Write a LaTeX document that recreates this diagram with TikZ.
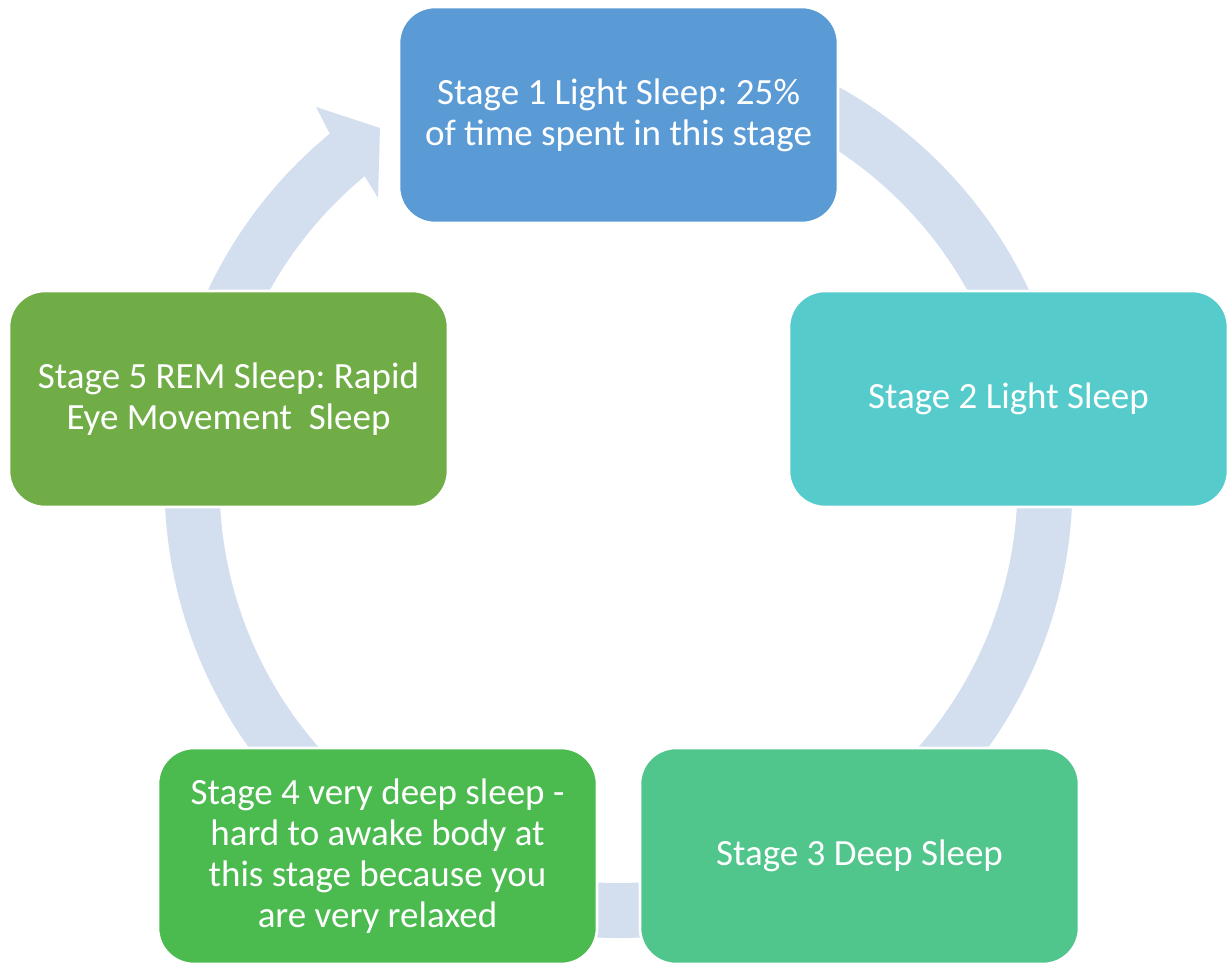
\documentclass[tikz,border=0pt]{standalone}
\usepackage{fontspec}
\setmainfont{Carlito}
\usetikzlibrary{calc}
\definecolor{bandc}{HTML}{D3DEEF}
\definecolor{c1}{HTML}{5B9BD5}
\definecolor{c2}{HTML}{56CBCC}
\definecolor{c3}{HTML}{50C58C}
\definecolor{c4}{HTML}{4BBB50}
\definecolor{c5}{HTML}{70AD47}
\newcommand\bandseg[2]{%
  \fill[band] ($(C)+(#1:454)$) arc[start angle=#1,end angle=#2,radius=454]
    -- ($(C)+(#2:399)$) arc[start angle=#2,end angle=#1,radius=399] -- cycle;}
\frenchspacing
\begin{document}
\begin{tikzpicture}[x=0.5pt,y=0.5pt,
  stagebox/.style={rounded corners=18pt, draw=white, line width=1.3pt,
    minimum width=219.5pt, minimum height=108pt, text=white, align=center,
    font=\fontsize{18.5pt}{20.5pt}\selectfont\frenchspacing, inner sep=0pt},
  band/.style={fill=bandc}]
\useasboundingbox (0,0) rectangle (1231,965);
\coordinate (C) at (618.5,481);
% cycle bands
\bandseg{78}{12}
\bandseg{2}{-52}
\bandseg{-78}{-102}
\bandseg{-128}{-178}
% arrow 5 -> 1 with head
\coordinate (h1) at (316,858);
\coordinate (h2) at (380,837);
\coordinate (h3) at (378,767);
\fill[band] ($(C)+(172:454)$) arc[start angle=172,end angle=129.5,radius=454]
  -- (h1) -- (h2) -- (h3) -- ($(C)+(129.5:399)$)
  arc[start angle=129.5,end angle=172,radius=399] -- cycle;
% stages
\node[stagebox, fill=c1] (s1) at (618.5,850) {Stage 1 Light Sleep: 25\%\\of time spent in this stage};
\node[stagebox, fill=c2] (s2) at (1008.5,566) {Stage 2 Light Sleep};
\node[stagebox, fill=c3] (s3) at (859.5,109) {Stage 3 Deep Sleep};
\node[stagebox, fill=c4] (s4) at (377.5,109) {Stage 4 very deep sleep -\\hard to awake body at\\this stage because you\\are very relaxed};
\node[stagebox, fill=c5] (s5) at (228.5,566) {Stage 5 REM Sleep: Rapid\\Eye Movement\ \ Sleep};
\end{tikzpicture}
\end{document}
